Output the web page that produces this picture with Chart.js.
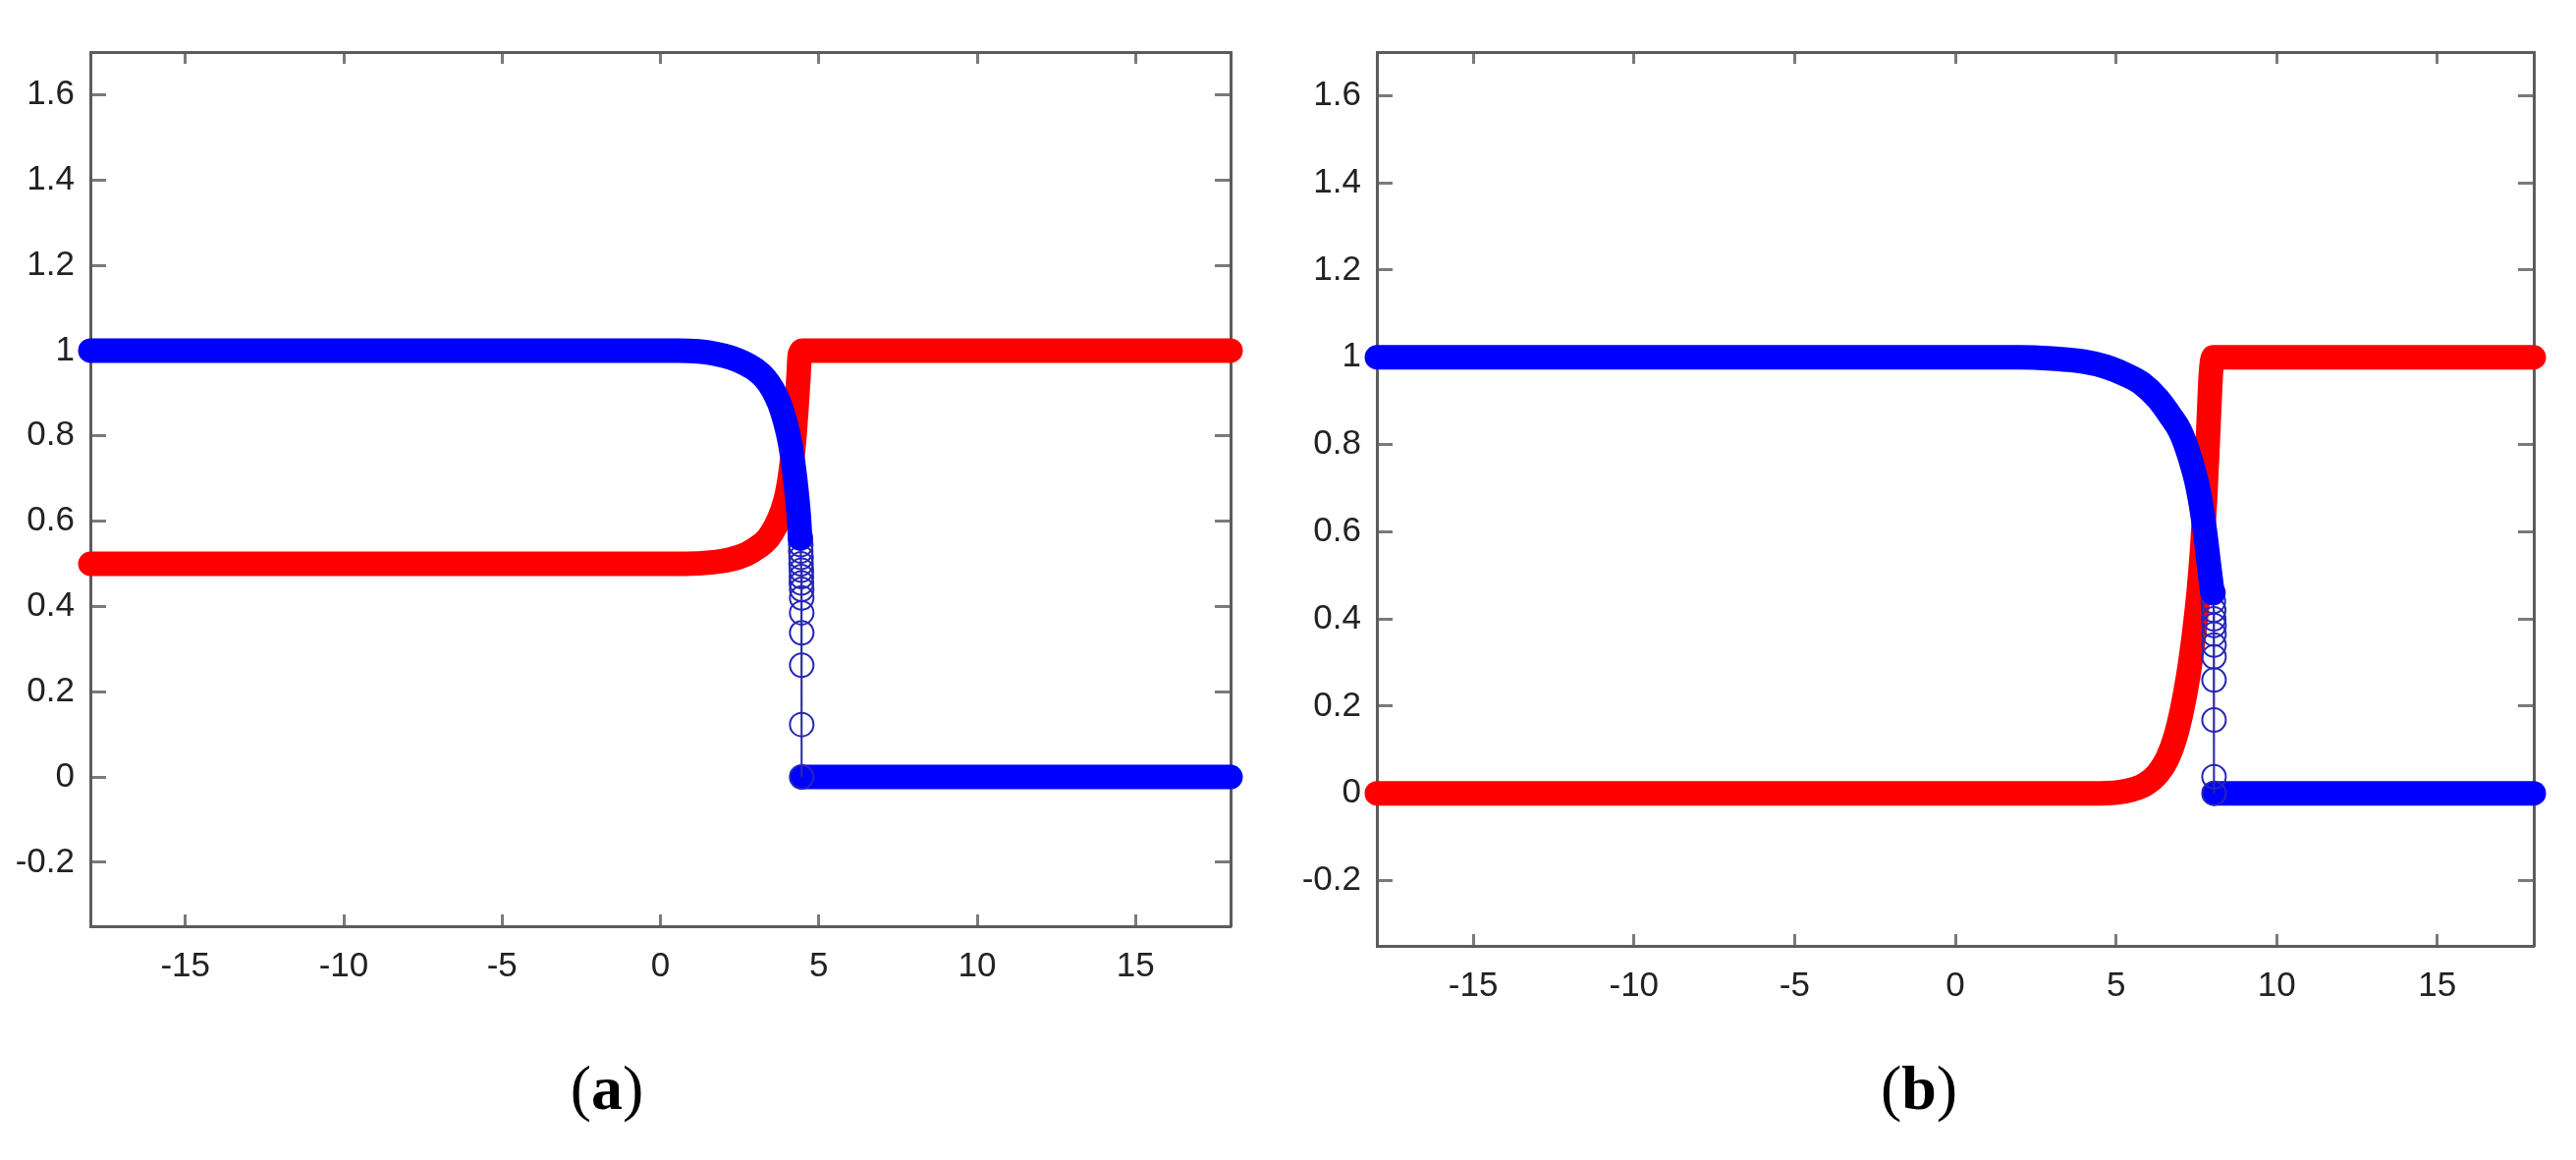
<!DOCTYPE html>
<html>
<head>
<meta charset="utf-8">
<script src="https://cdn.jsdelivr.net/npm/chart.js@4.4.0/dist/chart.umd.min.js"></script>
<style>
  body { margin: 0; background: #fff; width: 2623px; height: 1181px; position: relative; overflow: hidden; }
  canvas { position: absolute; }
  .cap { position: absolute; font-family: 'Liberation Serif', serif; font-size: 64px; color: #000;
         transform: translate(-50%, -50%); white-space: nowrap; }
</style>
</head>
<body>
<canvas id="chartA" width="1320" height="1060" style="left:0px;top:0px"></canvas>
<canvas id="chartB" width="1303" height="1080" style="left:1320px;top:0px"></canvas>
<div class="cap" style="left:618px;top:1108px">(<b>a</b>)</div>
<div class="cap" style="left:1954px;top:1108px">(<b>b</b>)</div>
<script>
// tick values shared by both panels
const xTicks = [-15, -10, -5, 0, 5, 10, 15];
const yTicks = [-0.2, 0, 0.2, 0.4, 0.6, 0.8, 1, 1.2, 1.4, 1.6];

// panel (a), red curve
const redAx = [-18, 0.8, 1.6, 2.2, 2.7, 3.1, 3.4, 3.65, 3.85, 4.0, 4.12, 4.22, 4.3, 4.36, 4.4, 4.5, 18];
const redAy = [0.5, 0.5, 0.503, 0.51, 0.522, 0.54, 0.56, 0.59, 0.625, 0.665, 0.72, 0.79, 0.87, 0.94, 0.99, 1, 1];
// panel (a), blue curve: dense part, the open circles of the drop, then the zero part
const blueBandAx = [-18, 0.6, 1.2, 1.7, 2.2, 2.6, 3.0, 3.3, 3.55, 3.76, 3.95, 4.1, 4.22, 4.31, 4.37, 4.41];
const blueBandAy = [1, 1, 0.998, 0.993, 0.984, 0.972, 0.955, 0.935, 0.908, 0.875, 0.83, 0.78, 0.72, 0.66, 0.61, 0.56];
const blueDropAx = [4.42, 4.43, 4.43, 4.44, 4.44, 4.45, 4.45, 4.45, 4.46, 4.46, 4.46, 4.46, 4.46, 4.46, 4.46];
const blueDropAy = [0.56, 0.545, 0.53, 0.515, 0.50, 0.485, 0.47, 0.455, 0.44, 0.42, 0.385, 0.338, 0.262, 0.123, 0];
const blueZeroAx = [4.46, 18];
const blueZeroAy = [0, 0];

// panel (b), red curve
const redBx = [-18, 4.5, 5.3, 5.9, 6.3, 6.6, 6.85, 7.05, 7.25, 7.42, 7.57, 7.68, 7.77, 7.84, 7.9, 7.95, 8.03, 18];
const redBy = [0, 0, 0.005, 0.02, 0.045, 0.08, 0.13, 0.19, 0.27, 0.36, 0.46, 0.56, 0.67, 0.78, 0.88, 0.96, 1, 1];
// panel (b), blue curve
const blueBandBx = [-18, 2.0, 3.0, 4.0, 4.7, 5.3, 5.8, 6.3, 6.7, 7.0, 7.3, 7.55, 7.75, 7.9, 8.0];
const blueBandBy = [1, 1, 0.997, 0.99, 0.978, 0.96, 0.94, 0.905, 0.865, 0.83, 0.77, 0.70, 0.61, 0.52, 0.46];
const blueDropBx = [8.02, 8.03, 8.04, 8.04, 8.05, 8.05, 8.05, 8.05, 8.05, 8.05, 8.05, 8.05];
const blueDropBy = [0.46, 0.44, 0.42, 0.40, 0.385, 0.365, 0.34, 0.313, 0.26, 0.168, 0.038, 0];
const blueZeroBx = [8.05, 18];
const blueZeroBy = [0, 0];

const RED = '#ff0000';
const BLUE = '#0000ff';

function pts(xs, ys) {
    return xs.map((x, i) => ({ x: x, y: ys[i] }));
}

// thick band made of overlapping markers
function band(xs, ys, color) {
    return {
        data: pts(xs, ys),
        showLine: true,
        borderColor: color,
        borderWidth: 25,
        borderCapStyle: 'round',
        borderJoinStyle: 'round',
        cubicInterpolationMode: 'monotone',
        pointRadius: 0,
        clip: false
    };
}

// open circles joined by a thin line
function circles(xs, ys) {
    return {
        data: pts(xs, ys),
        showLine: true,
        borderColor: '#2b2b9a',
        borderWidth: 2,
        pointRadius: 12,
        pointBorderWidth: 2,
        pointBorderColor: '#2626b8',
        pointBackgroundColor: 'rgba(0,0,0,0)',
        clip: false
    };
}

function xAxis(position, labels, height) {
    return {
        type: 'linear',
        position: position,
        min: -18,
        max: 18,
        afterBuildTicks: s => { s.ticks = xTicks.map(v => ({ value: v })); },
        afterFit: s => { s.height = height; },
        ticks: {
            display: labels, padding: 32, color: '#222222', autoSkip: false, maxRotation: 0,
            font: { size: 35 }, callback: v => String(v)
        },
        grid: { drawOnChartArea: false, drawTicks: true, tickLength: -12, tickColor: '#7a7a7a', tickWidth: 3 },
        border: { display: true, color: '#5c5c5c', width: 3 }
    };
}

function yAxis(position, labels, width) {
    return {
        type: 'linear',
        position: position,
        min: -0.35,
        max: 1.7,
        afterBuildTicks: s => { s.ticks = yTicks.map(v => ({ value: v })); },
        afterFit: s => { s.width = width; },
        ticks: {
            display: labels, padding: 32, color: '#222222', autoSkip: false,
            font: { size: 35 }, callback: v => String(v)
        },
        grid: { drawOnChartArea: false, drawTicks: true, tickLength: -16, tickColor: '#7a7a7a', tickWidth: 3 },
        border: { display: true, color: '#5c5c5c', width: 3 }
    };
}

function makePanel(id, datasets, pad, axisW, axisH) {
    new Chart(document.getElementById(id), {
        type: 'scatter',
        data: { datasets: datasets },
        options: {
            responsive: false,
            animation: false,
            devicePixelRatio: 1,
            layout: { padding: { left: 0, top: pad.top, right: pad.right, bottom: 0 } },
            plugins: { legend: { display: false }, tooltip: { enabled: false } },
            scales: {
                x: xAxis('bottom', true, axisH),
                x2: xAxis('top', false, 0),
                y: yAxis('left', true, axisW),
                y2: yAxis('right', false, 0)
            }
        }
    });
}

Chart.defaults.font.family = "'Liberation Sans', Arial, sans-serif";

// blue first so it sits on top of red
makePanel('chartA', [
    band(blueBandAx, blueBandAy, BLUE),
    circles(blueDropAx, blueDropAy),
    band(blueZeroAx, blueZeroAy, BLUE),
    band(redAx, redAy, RED)
], { top: 27, right: 67 }, 92, 117);

makePanel('chartB', [
    band(blueBandBx, blueBandBy, BLUE),
    circles(blueDropBx, blueDropBy),
    band(blueZeroBx, blueZeroBy, BLUE),
    band(redBx, redBy, RED)
], { top: 32, right: 43 }, 82, 117);
</script>
</body>
</html>
